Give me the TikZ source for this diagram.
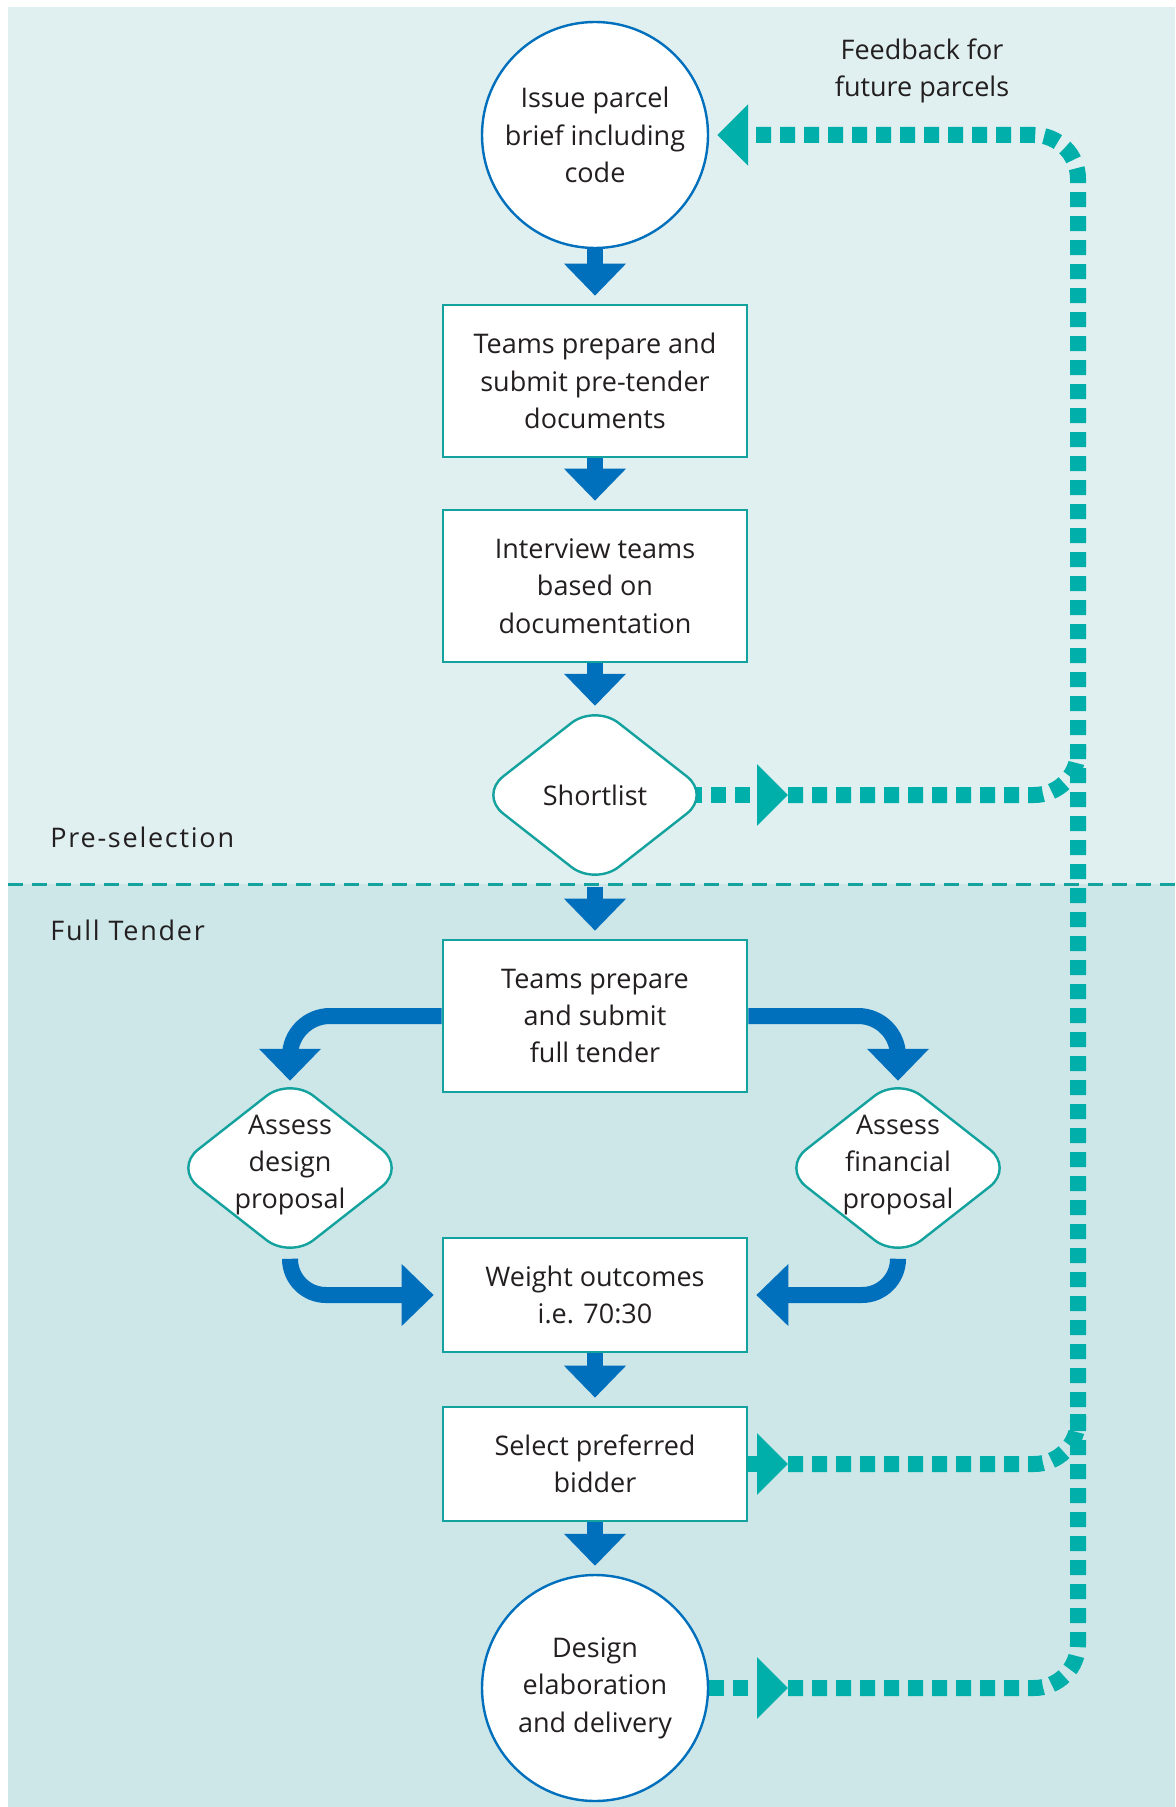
\documentclass[tikz,border=0pt]{standalone}
\usepackage{fontspec}
\setmainfont{Open Sans}
\newfontfamily\phasefont[LetterSpace=6.5]{Open Sans}
\usetikzlibrary{arrows.meta,shapes.geometric,backgrounds}

\definecolor{paleteal}{HTML}{E0EFEF}
\definecolor{midteal}{HTML}{CDE6E8}
\definecolor{flowblue}{HTML}{0070BD}
\definecolor{fbteal}{HTML}{00AFAA}
\definecolor{edgeteal}{HTML}{13A29E}
\definecolor{inkgrey}{HTML}{231F20}

\begin{document}
\begin{tikzpicture}[x=0.5pt,y=-0.5pt,
  every node/.style={font=\fontsize{13.5}{18.7}\selectfont,text=inkgrey,align=center},
  stage/.style={circle,draw=flowblue,line width=1.2pt,fill=white,
    minimum size=113pt,inner sep=0pt},
  task/.style={rectangle,draw=edgeteal,line width=1.3pt,fill=white,
    minimum width=152pt,minimum height=76pt,inner sep=0pt},
  shorttask/.style={task,minimum height=57pt},
  check/.style={diamond,draw=edgeteal,line width=1.2pt,fill=white,
    minimum width=116pt,minimum height=91pt,rounded corners=15pt,inner sep=0pt},
  flow/.style={flowblue,line width=8pt,
    -{Triangle[width=30pt,length=16pt]},shorten >=4pt},
  feedback/.style={fbteal,line width=8pt,dash pattern=on 7.5pt off 4.5pt},
  fbhead/.style={-{Triangle[width=30pt,length=15.5pt]}},
  phase/.style={font=\phasefont\fontsize{13.5}{18.7}\selectfont,
    anchor=west,inner sep=0pt}]
  \useasboundingbox (0,0) rectangle (1175,1807);

  % main sequence
  \node[stage] (issue) at (595,135) {Issue parcel\\brief including\\code};
  \node[task] (pretender) at (595,381) {Teams prepare and\\submit pre-tender\\documents};
  \node[task] (interview) at (595,586) {Interview teams\\based on\\documentation};
  \node[check,label={center:Shortlist}] (shortlist) at (595,795) {};
  \node[task] (tender) at (595,1016) {Teams prepare\\and submit\\full tender};
  \node[check,label={[yshift=1.5pt]center:{Assess\\design\\proposal}}] (design) at (290,1168) {};
  \node[check,label={[yshift=1.5pt]center:{Assess\\financial\\proposal}}] (finance) at (898,1168) {};
  \node[shorttask] (weight) at (595,1295) {Weight outcomes\\i.e. 70:30};
  \node[shorttask] (select) at (595,1464) {Select preferred\\bidder};
  \node[stage] (deliver) at (595,1688) {Design\\elaboration\\and delivery};

  \node[phase] (presel) at (50,837) {Pre-selection};
  \node[phase] (fulltender) at (50,930) {Full Tender};
  \node (fblabel) at (922,71) {Feedback for\\future parcels};

  % feedback loop points
  \coordinate (fbtop) at (1078,135);
  \coordinate (mid1) at (788,795);
  \coordinate (mid2) at (788,1464);
  \coordinate (mid3) at (788,1688);
  \coordinate (join1) at (1078,745);
  \coordinate (join2) at (1078,1414);

  \begin{scope}[on background layer]
    \fill[paleteal] (8,7) rectangle (1175,884);
    \fill[midteal] (8,884) rectangle (1175,1807);

    \draw[flow] (issue) -- (pretender);
    \draw[flow] (pretender) -- (interview);
    \draw[flow,shorten >=-1.5pt] (interview) -- (shortlist);
    \draw[flow] (shortlist) -- (tender);
    \draw[flow,rounded corners=20pt,shorten >=-2.5pt] (tender.west) -| (design);
    \draw[flow,rounded corners=20pt,shorten >=-2.5pt] (tender.east) -| (finance);
    \draw[flow,rounded corners=18pt] (design) |- (weight);
    \draw[flow,rounded corners=18pt] (finance) |- (weight);
    \draw[flow] (weight) -- (select);
    \draw[flow] (select) -- (deliver);

    \draw[feedback,fbhead,dash phase=2pt] (shortlist.center) -- (mid1);
    \draw[feedback,rounded corners=22pt] (mid1) -| (join1);
    \draw[feedback,fbhead] (select) -- (mid2);
    \draw[feedback,rounded corners=22pt] (mid2) -| (join2);
    \draw[feedback,fbhead] (deliver) -- (mid3);
    \draw[feedback,fbhead,rounded corners=22pt,shorten >=4pt]
      (mid3) -| (fbtop) -- (issue);

    \draw[edgeteal,line width=1.5pt,dash pattern=on 7.5pt off 4.5pt]
      (8,884) -- (1175,884);
  \end{scope}
\end{tikzpicture}
\end{document}
